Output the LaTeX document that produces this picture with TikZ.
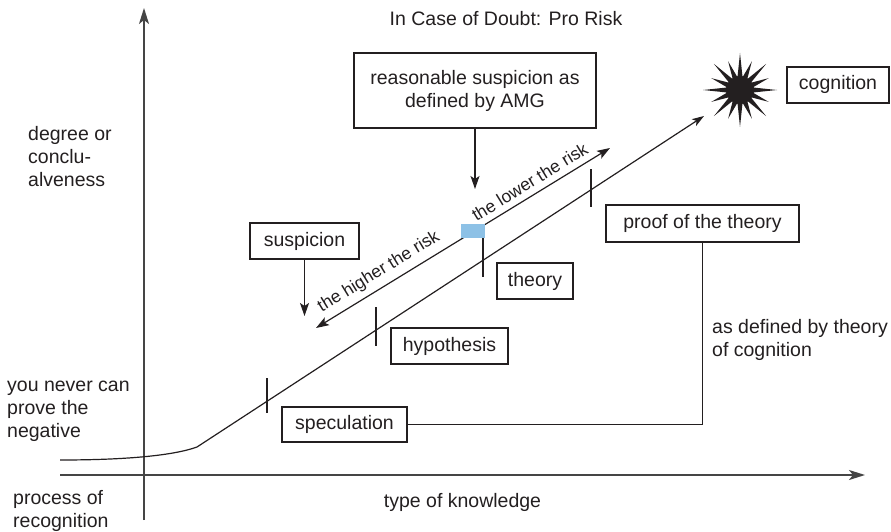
\documentclass[tikz,border=0pt]{standalone}
\usepackage{fontspec}
\setmainfont{Liberation Sans}
\usetikzlibrary{arrows.meta,calc}
\definecolor{ink}{HTML}{231F20}
\definecolor{axisgray}{HTML}{454545}
\definecolor{riskblue}{HTML}{8DC1E6}
\begin{document}
\begin{tikzpicture}[x=1pt,y=-1pt,
  every node/.style={text=ink},
  lbl/.style={font=\fontsize{19.5}{23}\selectfont},
  block/.style={lbl, anchor=north west, inner sep=0pt, align=left, execute at begin node=\strut},
  box/.style={lbl, draw=ink, line width=1.2pt, inner sep=0pt},
  box1/.style={box, text height=14pt, text depth=4pt},
  risklbl/.style={font=\fontsize{17.5}{21}\selectfont, inner sep=1pt, above=5pt},
  conn/.style={draw=ink, line width=1.2pt},
  tip/.style={-{Stealth[length=13pt,width=9pt,inset=3pt]}},
  axis/.style={draw=axisgray, line width=1.8pt, -{Stealth[length=16pt,width=10pt,inset=4pt]}},
]
\useasboundingbox (0,0) rectangle (891,532);

% axes
\coordinate (yb) at (144,520);
\coordinate (yt) at (144,8);
\coordinate (xl) at (60,475);
\coordinate (xr) at (865,475);
\draw[axis] (yb) -- (yt);
\draw[axis] (xl) -- (xr);

% title and axis texts
\node[lbl, anchor=base] (title) at (506,26) {In Case of Doubt: Pro Risk};
\node[lbl, anchor=base] (xlab) at (462.5,507) {type of knowledge};
\node[block] (deg) at (28,125.9) {degree or\\conclu-\\alveness};
\node[block] (never) at (7,380.9) {you never can\\prove the\\negative};
\node[block] (proc) at (13,489.9) {process of\\recognition};
\node[block] (asdef) at (712,318.9) {as defined by theory\\of cognition};

% boxes
\node[box, minimum width=242pt, minimum height=75pt, align=center] (amg) at (475,90.5) {reasonable suspicion as\\defined by AMG};
\node[box1, minimum width=102pt, minimum height=36pt] (cog) at (838,85) {cognition};
\node[box1, minimum width=193pt, minimum height=37pt] (proof) at (702.5,223.5) {proof of the theory};
\node[box1, minimum width=109pt, minimum height=36pt] (susp) at (304.5,241) {suspicion};
\node[box1, minimum width=76pt, minimum height=36pt] (theory) at (535,281) {theory};
\node[box1, minimum width=117pt, minimum height=36pt] (hyp) at (449.5,346) {hypothesis};
\node[box1, minimum width=125pt, minimum height=35pt] (spec) at (344.5,424.5) {speculation};

% star
\fill[ink, shift={(740,90)}] (90:37)
  \foreach \k [evaluate=\k as \r using {ifthenelse(mod(\k,2)==1, 13, ifthenelse(mod(\k,4)==0, 37, 31))}] in {1,...,31} { -- ({90+\k*11.25}:\r) } -- cycle;
\fill[ink] (740,90) circle (14);

% main curve
\coordinate (c0) at (60,460);
\coordinate (knee) at (197,447);
\coordinate (ctip) at (704,116);
\draw[conn, -{Stealth[length=12pt,width=8pt,inset=3pt]}] (c0) .. controls (130,460) and (175,455) .. (knee) -- (ctip);

% ticks
\draw[conn] (267,378) -- (267,413);
\draw[conn] (376,307) -- (376,346);
\draw[conn] (483,238) -- (483,277);
\draw[conn] (591,169) -- (591,207);

% risk arrow
\coordinate (rlow) at (316,328);
\coordinate (rhigh) at (610,148);
\draw[conn, {Stealth[length=13pt,width=9pt,inset=3pt]}-{Stealth[length=13pt,width=9pt,inset=3pt]}] (rlow) --
  node[pos=0.24, sloped, risklbl] (hr) {the higher the risk}
  node[pos=0.75, sloped, risklbl] (lr) {the lower the risk} (rhigh);
\node[fill=riskblue, minimum width=24pt, minimum height=14pt, inner sep=0pt] (mark) at (473,231) {};

% connectors
\coordinate (amgtip) at (475,189);
\draw[conn, tip] (amg.south) -- (amgtip);
\coordinate (susptip) at (304.5,316);
\draw[conn, tip] (susp.south) -- (susptip);
\draw[conn] (proof.south) |- (spec.east);
\end{tikzpicture}
\end{document}
